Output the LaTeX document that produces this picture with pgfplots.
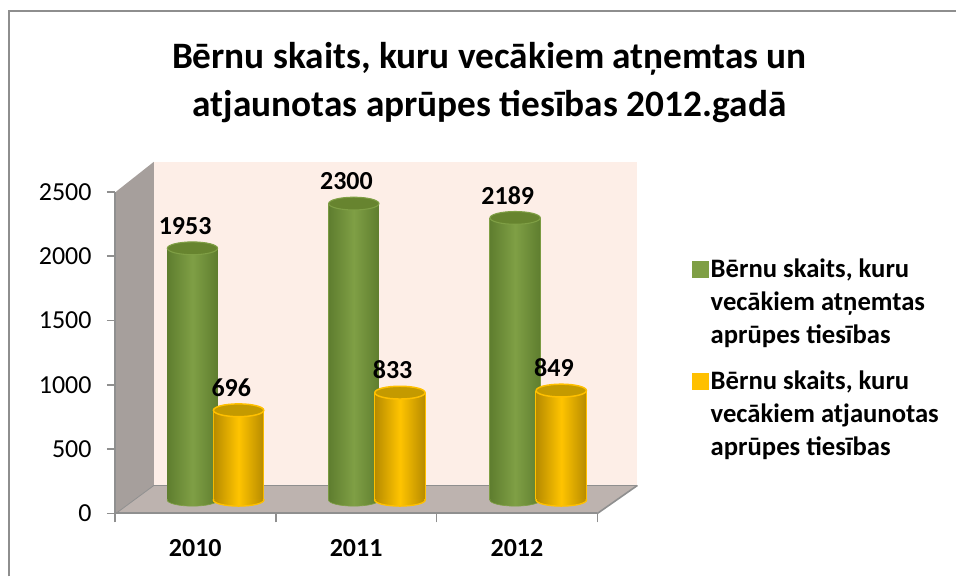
\documentclass[border=0pt]{standalone}
\usepackage{fontspec}
\setmainfont{Carlito}
\usepackage{pgfplots}
\usepackage{pgfplotstable}
\pgfplotsset{compat=1.18}
\definecolor{framegray}{HTML}{8E8E8E}
\definecolor{axisgray}{HTML}{8F8F8F}
\definecolor{wallc}{HTML}{FDEEE7}
\definecolor{sidec}{HTML}{A69F9C}
\definecolor{floorc}{HTML}{BDB3AF}
\definecolor{gdark}{HTML}{5F7E2F}
\definecolor{gmid}{HTML}{7F9F45}
\definecolor{gtopc}{HTML}{67842F}
\definecolor{gedge}{HTML}{7F9F45}
\definecolor{ydark}{HTML}{B88C00}
\definecolor{ymid}{HTML}{FFC400}
\definecolor{ytopc}{HTML}{C49A00}
\definecolor{yedge}{HTML}{FFC000}
\pgfplotstableread{
x v
-0.143 1953
0.857 2300
1.857 2189
}\greendata
\pgfplotstableread{
x v
0.143 696
1.143 833
2.143 849
}\yellowdata
\pgfdeclareplotmark{gtop}{\path[draw=gedge,line width=.8pt,fill=gtopc,rotate=3] (0pt,0pt) ellipse [x radius=18.9pt,y radius=4.8pt];}
\pgfdeclareplotmark{ytop}{\path[draw=yedge,line width=1.1pt,fill=ytopc,rotate=3] (0pt,0pt) ellipse [x radius=18.9pt,y radius=4.8pt];}
\pgfdeclareplotmark{gbase}{\begin{pgfscope}\pgfpathrectanglecorners{\pgfqpoint{-25pt}{0pt}}{\pgfqpoint{25pt}{-10pt}}\pgfusepath{clip}\path[draw=gedge,line width=.5pt,left color=gdark,right color=gdark,middle color=gmid] (0pt,0pt) ellipse [x radius=19pt,y radius=4.6pt];\end{pgfscope}}
\pgfdeclareplotmark{ybase}{\begin{pgfscope}\pgfpathrectanglecorners{\pgfqpoint{-25pt}{0pt}}{\pgfqpoint{25pt}{-10pt}}\pgfusepath{clip}\path[draw=yedge,line width=1pt,left color=ydark,right color=ydark,middle color=ymid] (0pt,0pt) ellipse [x radius=19pt,y radius=4.6pt];\end{pgfscope}}
\newcommand{\lab}[1]{\fontsize{#1}{#1}\selectfont}
\begin{document}
\begin{tikzpicture}
\path (0,0) rectangle (717.75pt,432.75pt);
% background: frame, walls, floor, title
\begin{axis}[
  at={(0pt,0pt)},anchor=south west,scale only axis,width=717.75pt,height=432.75pt,
  xmin=0,xmax=957,ymin=0,ymax=577,hide axis,clip=false,
  title={Bērnu skaits, kuru vecākiem atņemtas un\\atjaunotas aprūpes tiesības 2012.gadā},
  title style={at={(490/957,1-91/577)},anchor=center,align=center,
    font=\fontsize{28}{36}\selectfont\bfseries},
]
\addplot[draw=framegray,line width=1.5pt,forget plot] coordinates {(9.5,0) (9.5,566) (957,566)};
\addplot[fill=wallc,draw=none,forget plot] coordinates {(154,415) (638,415) (638,91) (154,91)} -- cycle;
\addplot[fill=sidec,draw=none,forget plot] coordinates {(116,385) (154,415) (154,91) (116,63)} -- cycle;
\addplot[fill=floorc,draw=none,forget plot] coordinates {(154,91) (638,91) (598,63) (116,63)} -- cycle;
\addplot[draw=axisgray,line width=1.2pt,forget plot] coordinates {(598,63) (638,91)};
\addplot[draw=axisgray,line width=.6pt,forget plot] coordinates {(116,63) (154,91) (638,91)};
\end{axis}
% value axis with ticks
\begin{axis}[
  at={(86.25pt,47.25pt)},anchor=south west,scale only axis,width=362.25pt,height=241.5pt,
  xmin=-0.5,xmax=2.5,ymin=0,ymax=2500,
  axis lines=left,axis line style={-,draw=axisgray,line width=1.5pt},
  xtick={0,1,2},xticklabels={2010,2011,2012},
  minor xtick={-0.5,0.5,1.5,2.5},
  ytick={0,500,1000,1500,2000,2500},
  tick align=outside,
  major tick length=6pt,
  tick style={draw=axisgray,line width=1.2pt},
  every major x tick/.append style={draw=none},
  minor tick length=6.75pt,
  x tick label style={font=\lab{19.5}\bfseries,yshift=-10pt},
  y tick label style={font=\lab{19.5},xshift=-8pt},
  /pgf/number format/assume math mode=true,
  /pgf/number format/1000 sep={},
]
\end{axis}
% cylinders
\begin{axis}[
  at={(101.25pt,57.375pt)},anchor=south west,scale only axis,width=363.375pt,height=241.875pt,
  xmin=-0.5,xmax=2.5,ymin=0,ymax=2500,hide axis,clip=false,
  legend style={at={(1.1414,0.765)},anchor=north west,draw=none,fill=none,
    font=\lab{20}\bfseries,row sep=64.5pt,
    /tikz/every even column/.append style={column sep=8pt}},
  legend cell align=left,
  nodes near coords={\pgfmathprintnumber[assume math mode=true,1000 sep={},fixed]{\pgfplotspointmeta}},
  every node near coord/.append style={font=\lab{19.5}\bfseries,anchor=center,xshift=-5.5pt,yshift=17pt,text=black},
]
\addplot[only marks,mark=gbase,nodes near coords={},forget plot] table[x=x,y expr=0] {\greendata};
\pgfplotsinvokeforeach{0,1,2}{
\addplot[ybar,bar width=38.6pt,bar shift=0pt,fill=gedge,draw=none,nodes near coords={},forget plot,restrict expr to domain={\coordindex}{#1:#1}] table[x=x,y=v] {\greendata};
\addplot[ybar,bar width=37.4pt,bar shift=0pt,draw=none,left color=gdark,right color=gdark,middle color=gmid,nodes near coords={},forget plot,restrict expr to domain={\coordindex}{#1:#1}] table[x=x,y=v] {\greendata};
}
\addplot[only marks,mark=gtop,legend image code/.code={\fill[gmid] (0pt,-6pt) rectangle (12pt,6pt);}] table[x=x,y=v] {\greendata};
\addlegendentry{\parbox[t]{173pt}{\raggedright\baselineskip=24.75pt Bērnu skaits, kuru\\vecākiem atņemtas\\aprūpes tiesības}}
\addplot[only marks,mark=ybase,nodes near coords={},forget plot] table[x=x,y expr=0] {\yellowdata};
\pgfplotsinvokeforeach{0,1,2}{
\addplot[ybar,bar width=38.8pt,bar shift=0pt,fill=yedge,draw=none,nodes near coords={},forget plot,restrict expr to domain={\coordindex}{#1:#1}] table[x=x,y=v] {\yellowdata};
\addplot[ybar,bar width=37pt,bar shift=0pt,draw=none,left color=ydark,right color=ydark,middle color=ymid,nodes near coords={},forget plot,restrict expr to domain={\coordindex}{#1:#1}] table[x=x,y=v] {\yellowdata};
}
\addplot[only marks,mark=ytop,legend image code/.code={\fill[yedge] (0pt,-6pt) rectangle (12pt,6pt);}] table[x=x,y=v] {\yellowdata};
\addlegendentry{\parbox[t]{173pt}{\raggedright\baselineskip=24.75pt Bērnu skaits, kuru\\vecākiem atjaunotas\\aprūpes tiesības}}
\end{axis}
\end{tikzpicture}
\end{document}
